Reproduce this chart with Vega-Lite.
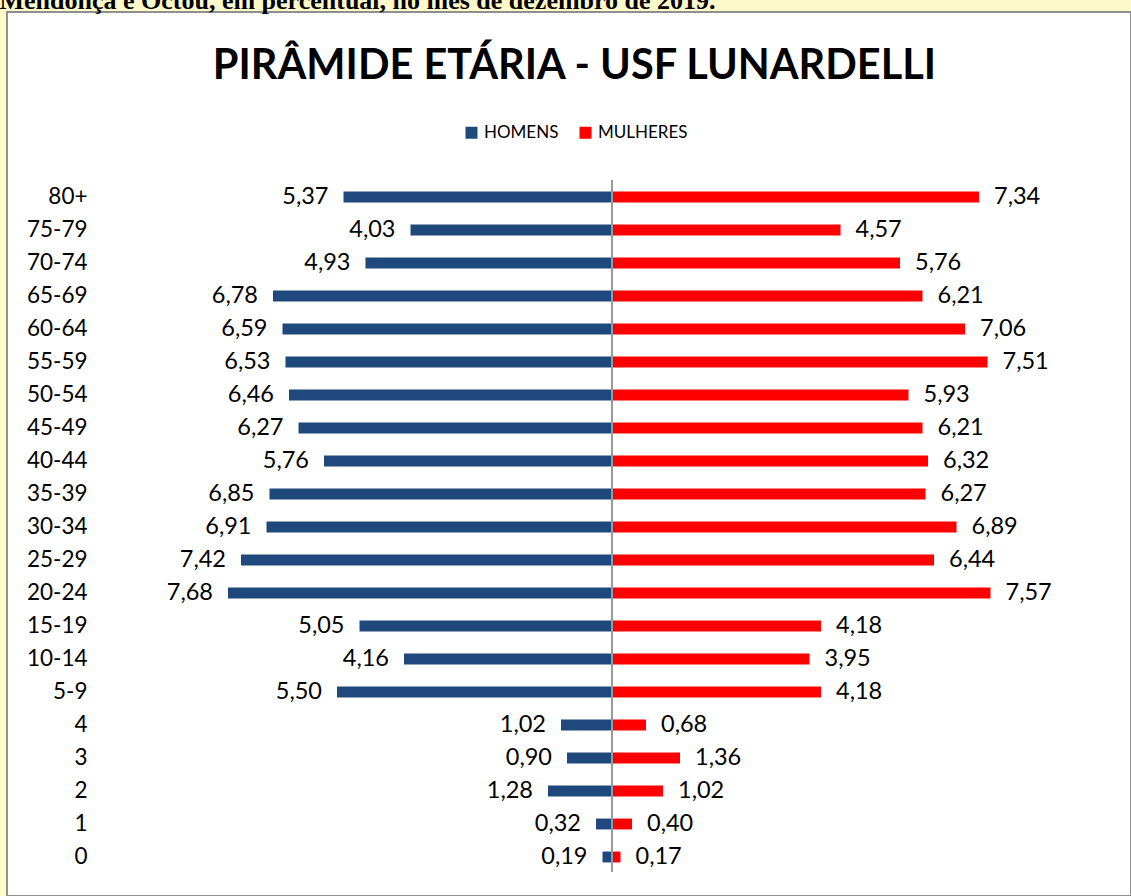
{
  "$schema": "https://vega.github.io/schema/vega-lite/v6.json",
  "width": 1124,
  "height": 884,
  "autosize": {"type": "none"},
  "padding": {"left": 7, "top": 12, "right": 0, "bottom": 0},
  "background": "#FDF9C9",
  "config": {
    "view": {"fill": "white", "stroke": "#8f8f8f", "strokeWidth": 2},
    "locale": {"number": {"decimal": ",", "thousands": ".", "grouping": [3], "currency": ["R$", ""]}},
    "font": "Lato"
  },
  "datasets": {
    "pop": [
      {"age": "80+", "sex": "HOMENS", "pct": 5.37}, {"age": "80+", "sex": "MULHERES", "pct": 7.34},
      {"age": "75-79", "sex": "HOMENS", "pct": 4.03}, {"age": "75-79", "sex": "MULHERES", "pct": 4.57},
      {"age": "70-74", "sex": "HOMENS", "pct": 4.93}, {"age": "70-74", "sex": "MULHERES", "pct": 5.76},
      {"age": "65-69", "sex": "HOMENS", "pct": 6.78}, {"age": "65-69", "sex": "MULHERES", "pct": 6.21},
      {"age": "60-64", "sex": "HOMENS", "pct": 6.59}, {"age": "60-64", "sex": "MULHERES", "pct": 7.06},
      {"age": "55-59", "sex": "HOMENS", "pct": 6.53}, {"age": "55-59", "sex": "MULHERES", "pct": 7.51},
      {"age": "50-54", "sex": "HOMENS", "pct": 6.46}, {"age": "50-54", "sex": "MULHERES", "pct": 5.93},
      {"age": "45-49", "sex": "HOMENS", "pct": 6.27}, {"age": "45-49", "sex": "MULHERES", "pct": 6.21},
      {"age": "40-44", "sex": "HOMENS", "pct": 5.76}, {"age": "40-44", "sex": "MULHERES", "pct": 6.32},
      {"age": "35-39", "sex": "HOMENS", "pct": 6.85}, {"age": "35-39", "sex": "MULHERES", "pct": 6.27},
      {"age": "30-34", "sex": "HOMENS", "pct": 6.91}, {"age": "30-34", "sex": "MULHERES", "pct": 6.89},
      {"age": "25-29", "sex": "HOMENS", "pct": 7.42}, {"age": "25-29", "sex": "MULHERES", "pct": 6.44},
      {"age": "20-24", "sex": "HOMENS", "pct": 7.68}, {"age": "20-24", "sex": "MULHERES", "pct": 7.57},
      {"age": "15-19", "sex": "HOMENS", "pct": 5.05}, {"age": "15-19", "sex": "MULHERES", "pct": 4.18},
      {"age": "10-14", "sex": "HOMENS", "pct": 4.16}, {"age": "10-14", "sex": "MULHERES", "pct": 3.95},
      {"age": "5-9", "sex": "HOMENS", "pct": 5.50}, {"age": "5-9", "sex": "MULHERES", "pct": 4.18},
      {"age": "4", "sex": "HOMENS", "pct": 1.02}, {"age": "4", "sex": "MULHERES", "pct": 0.68},
      {"age": "3", "sex": "HOMENS", "pct": 0.90}, {"age": "3", "sex": "MULHERES", "pct": 1.36},
      {"age": "2", "sex": "HOMENS", "pct": 1.28}, {"age": "2", "sex": "MULHERES", "pct": 1.02},
      {"age": "1", "sex": "HOMENS", "pct": 0.32}, {"age": "1", "sex": "MULHERES", "pct": 0.40},
      {"age": "0", "sex": "HOMENS", "pct": 0.19}, {"age": "0", "sex": "MULHERES", "pct": 0.17}
    ],
    "axisline": [{"v": 0}]
  },
  "data": {"name": "pop"},
  "layer": [
    {
      "transform": [{"filter": "datum.sex === 'HOMENS'"}],
      "encoding": {
        "x": {"field": "pct", "type": "quantitative", "scale": {"domain": [0, 12.1], "range": [605, 0], "nice": false}, "axis": null},
        "y": {
          "field": "age", "type": "nominal",
          "sort": ["80+", "75-79", "70-74", "65-69", "60-64", "55-59", "50-54", "45-49", "40-44", "35-39", "30-34", "25-29", "20-24", "15-19", "10-14", "5-9", "4", "3", "2", "1", "0"],
          "scale": {"domain": ["80+", "75-79", "70-74", "65-69", "60-64", "55-59", "50-54", "45-49", "40-44", "35-39", "30-34", "25-29", "20-24", "15-19", "10-14", "5-9", "4", "3", "2", "1", "0"], "range": [168.5, 861.5], "paddingInner": 0.67, "paddingOuter": 0.335},
          "axis": {"title": null, "domain": false, "ticks": false, "tickSize": 0, "labelPadding": -80, "labelFont": "Lato", "labelFontSize": 22.5, "labelColor": "#000000", "labelAlign": "right"}
        }
      },
      "layer": [
        {
          "mark": {"type": "bar"},
          "encoding": {
            "color": {"field": "sex", "type": "nominal", "scale": {"domain": ["HOMENS", "MULHERES"], "range": ["#1F497D", "#FF0000"]},
              "legend": {"orient": "none", "legendX": 456, "legendY": 112, "direction": "horizontal", "title": null, "symbolType": "square", "symbolSize": 144, "symbolStrokeWidth": 0, "labelFont": "Lato", "labelFontSize": 17, "labelColor": "#000000", "columnPadding": 18, "labelOffset": 4}}
          }
        },
        {
          "mark": {"type": "text", "align": "right", "baseline": "middle", "dx": -15, "fontSize": 23.5, "font": "Lato", "color": "#000000"},
          "encoding": {"text": {"field": "pct", "type": "quantitative", "format": ".2f"}}
        }
      ]
    },
    {
      "transform": [{"filter": "datum.sex === 'MULHERES'"}],
      "encoding": {
        "x": {"field": "pct", "type": "quantitative", "scale": {"domain": [0, 10.38], "range": [605, 1124], "nice": false},
          "axis": {"orient": "top", "domain": false, "ticks": false, "labels": false, "grid": false, "title": "PIRÂMIDE ETÁRIA - USF LUNARDELLI", "titleX": 567, "titleY": 66, "titleAlign": "center", "titleBaseline": "alphabetic", "titleFont": "Lato", "titleFontSize": 41.5, "titleFontWeight": "bold", "titleColor": "#000000"}},
        "y": {
          "field": "age", "type": "nominal",
          "sort": ["80+", "75-79", "70-74", "65-69", "60-64", "55-59", "50-54", "45-49", "40-44", "35-39", "30-34", "25-29", "20-24", "15-19", "10-14", "5-9", "4", "3", "2", "1", "0"],
          "scale": {"domain": ["80+", "75-79", "70-74", "65-69", "60-64", "55-59", "50-54", "45-49", "40-44", "35-39", "30-34", "25-29", "20-24", "15-19", "10-14", "5-9", "4", "3", "2", "1", "0"], "range": [168.5, 861.5], "paddingInner": 0.67, "paddingOuter": 0.335},
          "axis": null
        }
      },
      "layer": [
        {
          "mark": {"type": "bar"},
          "encoding": {
            "color": {"field": "sex", "type": "nominal", "scale": {"domain": ["HOMENS", "MULHERES"], "range": ["#1F497D", "#FF0000"]},
              "legend": {"orient": "none", "legendX": 456, "legendY": 112, "direction": "horizontal", "title": null, "symbolType": "square", "symbolSize": 144, "symbolStrokeWidth": 0, "labelFont": "Lato", "labelFontSize": 17, "labelColor": "#000000", "columnPadding": 18, "labelOffset": 4}}
          }
        },
        {
          "mark": {"type": "text", "align": "left", "baseline": "middle", "dx": 15, "fontSize": 23.5, "font": "Lato", "color": "#000000"},
          "encoding": {"text": {"field": "pct", "type": "quantitative", "format": ".2f"}}
        }
      ]
    },
    {
      "data": {"name": "axisline"},
      "mark": {"type": "rule", "color": "#9a9a9a", "strokeWidth": 2},
      "encoding": {
        "x": {"datum": 0, "type": "quantitative", "scale": {"domain": [-12.1, 10.38], "nice": false, "zero": false},
          "axis": {"orient": "top", "domain": false, "ticks": false, "labels": false, "grid": false, "title": "Mendonça e Octou, em percentual, no mês de dezembro de 2019.", "titleX": -8, "titleY": -4, "titleAlign": "left", "titleBaseline": "alphabetic", "titleFont": "Liberation Serif", "titleFontSize": 26, "titleFontWeight": "bold", "titleColor": "#000000"}},
        "y": {"datum": 0, "type": "quantitative", "scale": {"domain": [0, 1], "range": [168, 860], "nice": false}, "axis": null},
        "y2": {"datum": 1}
      }
    }
  ],
  "resolve": {"scale": {"x": "independent", "y": "independent"}}
}
